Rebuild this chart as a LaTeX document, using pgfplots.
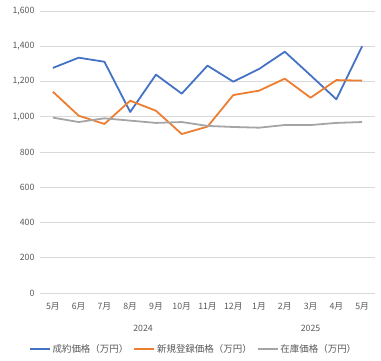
\documentclass[border=0pt]{standalone}
\usepackage{fontspec}
\setmainfont{Noto Sans CJK JP}
\usepackage{pgfplots}
\pgfplotsset{compat=1.18}
\definecolor{cblue}{HTML}{4472C4}
\definecolor{corange}{HTML}{ED7D31}
\definecolor{cgray}{HTML}{A5A5A5}
\definecolor{cgrid}{HTML}{D9D9D9}
\definecolor{ctext}{HTML}{595959}
\begin{document}
\begin{tikzpicture}
\begin{axis}[
  name=ax,
  scale only axis,
  width=335bp, height=282bp,
  xmin=-0.5, xmax=12.5,
  ymin=0, ymax=1600,
  ytick={0,200,...,1600},
  xtick={0,...,12},
  xticklabels={5月,6月,7月,8月,9月,10月,11月,12月,1月,2月,3月,4月,5月},
  ymajorgrids, grid style={cgrid, line width=0.8pt},
  axis line style={draw=none},
  major tick length=0pt,
  tick label style={font=\fontsize{8.8}{10}\selectfont, text=ctext},
  /pgf/number format/assume math mode=true,
  /pgf/number format/1000 sep={,},
  yticklabel style={xshift=-2bp},
  xticklabel style={yshift=-6bp},
  clip=false,
  legend columns=3,
  legend style={at={(0.5,0)}, anchor=north, yshift=-47bp, xshift=-14bp, draw=none, fill=none,
    font=\fontsize{9.5}{11}\selectfont, text=ctext,
    /tikz/every even column/.append style={column sep=3bp}},
  legend image code/.code={\draw[#1, line width=1.8pt] (0bp,0bp) -- (20bp,0bp);},
  every axis plot/.append style={line width=1.8pt, mark=none, line join=round},
]
\addplot[cblue] coordinates {(0,1277)(1,1335)(2,1312)(3,1027)(4,1239)(5,1131)(6,1290)(7,1199)(8,1271)(9,1369)(10,1235)(11,1099)(12,1400)};
\addlegendentry{成約価格（万円）}
\addplot[corange] coordinates {(0,1142)(1,1006)(2,959)(3,1091)(4,1034)(5,902)(6,944)(7,1123)(8,1148)(9,1216)(10,1108)(11,1208)(12,1205)};
\addlegendentry{新規登録価格（万円）}
\addplot[cgray] coordinates {(0,995)(1,970)(2,991)(3,978)(4,965)(5,970)(6,948)(7,942)(8,938)(9,953)(10,953)(11,965)(12,970)};
\addlegendentry{在庫価格（万円）}
\node[font=\fontsize{8.8}{10}\selectfont, text=ctext] at (axis cs:3.5,0) [yshift=-35bp] {2024};
\node[font=\fontsize{8.8}{10}\selectfont, text=ctext] at (axis cs:10,0) [yshift=-35bp] {2025};
\end{axis}
\pgfresetboundingbox
\path[use as bounding box] (ax.south west) ++(-40bp,-68bp) rectangle ++(381bp,361bp);
\end{tikzpicture}
\end{document}
